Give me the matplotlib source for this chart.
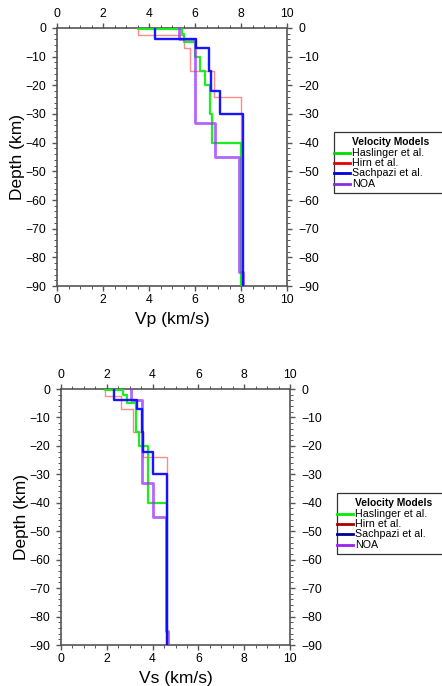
import matplotlib
matplotlib.use("Agg")
import matplotlib.pyplot as plt
from matplotlib.lines import Line2D
from matplotlib.patches import Rectangle
from matplotlib.ticker import MultipleLocator

plt.rcParams['font.family'] = ['Liberation Sans', 'DejaVu Sans']

# Layered 1-D velocity models: layer boundaries (km depth) and velocities (km/s)
model_names = ["Haslinger et al.", "Hirn et al.", "Sachpazi et al.", "NOA"]

haslinger_z = [0, 0.3, 2, 5, 10, 15, 20, 30, 40, 90]
haslinger_vp = [3.5, 5.45, 5.5, 6.0, 6.2, 6.45, 6.67, 6.73, 8.0]
haslinger_vs_z = [0, 0.3, 2, 5, 15, 20, 40, 90]
haslinger_vs = [1.92, 2.72, 2.87, 3.27, 3.42, 3.81, 4.61]

hirn_z = [0, 2.5, 7, 15, 24, 90]
hirn_vp = [3.5, 5.5, 5.8, 6.82, 8.0]
hirn_vs = [1.92, 2.6, 3.13, 3.6, 4.64]

sachpazi_z = [0, 4, 7, 15, 22, 30, 90]
sachpazi_vp = [4.25, 6.06, 6.6, 6.69, 7.1, 8.1]
sachpazi_vs = [2.33, 3.3, 3.55, 3.6, 4.03, 4.61]

noa_z = [0, 4, 33, 45, 85, 90]
noa_vp = [5.3, 6.0, 6.89, 7.9, 8.1]
noa_vs = [3.06, 3.52, 4.0, 4.57, 4.66]

x_ticks = [0, 2, 4, 6, 8, 10]
y_ticks = [0, -10, -20, -30, -40, -50, -60, -70, -80, -90]


def step_profile(bounds, values):
    xs, ys = [], []
    for i, v in enumerate(values):
        xs += [v, v]
        ys += [-bounds[i], -bounds[i + 1]]
    return xs, ys


line_styles = {
    "Hirn et al.": dict(color="#ff2a2a", lw=1.0, alpha=0.55, zorder=2),
    "Haslinger et al.": dict(color="#11ee11", lw=1.6, alpha=0.95, zorder=3),
    "NOA": dict(color="#9933ff", lw=2.0, alpha=0.75, zorder=4),
    "Sachpazi et al.": dict(color="#0a0aff", lw=1.7, alpha=0.95, zorder=5),
}

frame_color = "#555555"


def style_axes(ax, xlabel):
    ax.set_xlim(0, 10)
    ax.set_ylim(-90, 0)
    ax.set_xticks(x_ticks)
    ax.set_yticks(y_ticks)
    ax.xaxis.set_minor_locator(MultipleLocator(0.5))
    ax.yaxis.set_minor_locator(MultipleLocator(2))
    ax.tick_params(which="both", direction="out", colors=frame_color,
                   labelcolor="black", top=True, right=True,
                   labeltop=True, labelright=True, labelsize=8.8)
    ax.tick_params(which="major", length=3.5, width=1.0, pad=2.5)
    ax.tick_params(which="minor", length=2, width=0.7)
    ax.tick_params(axis="y", which="major", pad=4.5)
    for s in ax.spines.values():
        s.set_color(frame_color)
        s.set_linewidth(1.2)
    ax.set_xlabel(xlabel, fontsize=12.5, labelpad=4)
    ax.set_ylabel("Depth (km)", fontsize=12.5, labelpad=0)


def draw_legend(fig, x0, y_top, colors):
    W, H = fig.get_size_inches() * fig.dpi
    box_h = 61
    fig.patches.append(Rectangle((x0 / W, 1 - (y_top + box_h) / H), 0.4, box_h / H,
                                 transform=fig.transFigure, fill=False,
                                 edgecolor="#333333", lw=0.9))
    fig.text((x0 + 18) / W, 1 - (y_top + 10) / H, "Velocity Models",
             fontsize=7.4, fontweight="bold", va="center", ha="left")
    for k, (name, c) in enumerate(zip(model_names, colors)):
        yy = 1 - (y_top + 21 + 10.2 * k) / H
        fig.lines.append(Line2D([x0 / W, (x0 + 16) / W], [yy, yy],
                                transform=fig.transFigure, color=c, lw=2))
        fig.text((x0 + 18) / W, yy, name, fontsize=7.7, va="center", ha="left")


fig = plt.figure(figsize=(4.42, 6.86), dpi=100)

ax1 = fig.add_axes([57 / 442, 1 - 286 / 686, 230 / 442, 258 / 686])
ax2 = fig.add_axes([61 / 442, 1 - 645 / 686, 229 / 442, 256 / 686])

vp_sets = {
    "Hirn et al.": (hirn_z, hirn_vp),
    "Haslinger et al.": (haslinger_z, haslinger_vp),
    "NOA": (noa_z, noa_vp),
    "Sachpazi et al.": (sachpazi_z, sachpazi_vp),
}
vs_sets = {
    "Hirn et al.": (hirn_z, hirn_vs),
    "Haslinger et al.": (haslinger_vs_z, haslinger_vs),
    "NOA": (noa_z, noa_vs),
    "Sachpazi et al.": (sachpazi_z, sachpazi_vs),
}

for name, (z, v) in vp_sets.items():
    xs, ys = step_profile(z, v)
    ax1.plot(xs, ys, **line_styles[name])
for name, (z, v) in vs_sets.items():
    xs, ys = step_profile(z, v)
    ax2.plot(xs, ys, **line_styles[name])

style_axes(ax1, "Vp (km/s)")
style_axes(ax2, "Vs (km/s)")

draw_legend(fig, 334, 132, ["#00dd00", "#ee0000", "#0000dd", "#8a2be2"])
draw_legend(fig, 337, 493, ["#00ee00", "#aa0000", "#00008f", "#9a22ee"])

fig.savefig("out.png", dpi=100)
